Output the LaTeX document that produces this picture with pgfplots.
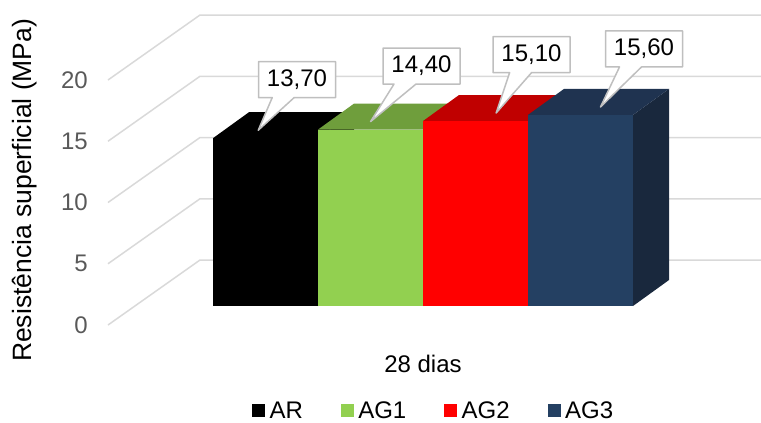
\documentclass[border=0pt]{standalone}
\usepackage{fontspec}
\setmainfont{Liberation Sans}
\usepackage{pgfplots}
\pgfplotsset{compat=1.18}
\usetikzlibrary{shapes.callouts}

\definecolor{gridgray}{HTML}{D9D9D9}
\definecolor{ticktext}{HTML}{595959}
\definecolor{calloutgray}{HTML}{BFBFBF}
\definecolor{agonefront}{HTML}{92D050}
\definecolor{agonetop}{HTML}{6F9E3C}
\definecolor{agoneside}{HTML}{5E8733}
\definecolor{agtwofront}{HTML}{FF0000}
\definecolor{agtwotop}{HTML}{C00000}
\definecolor{agtwoside}{HTML}{A00000}
\definecolor{agthreefront}{HTML}{244062}
\definecolor{agthreetop}{HTML}{1F3350}
\definecolor{agthreeside}{HTML}{19283D}

\newcommand\chartfont{\fontsize{24}{28.8}\selectfont}
\newcommand\titlefont{\fontsize{26.5}{31.8}\selectfont}

\pgfplotsset{
  % oblique projection of the 3-D frame: x runs along the front, y in MPa;
  % the back of the frame sits 92 units right and 5.306 MPa higher
  wall/.style={forget plot, draw=gridgray, line width=1.5pt,
    x filter/.expression={\coordindex>0 ? x+92 : x},
    y filter/.expression={\coordindex>0 ? y+5.306 : y}},
  % front face of a column (the columns stand a little behind the front edge)
  front/.style={forget plot, draw=none, y filter/.expression={y+1.551}},
  % top and side faces: the last two corners are pushed to the back of the column
  deep/.style={forget plot, draw=none,
    x filter/.expression={\coordindex>1 ? x+36 : x},
    y filter/.expression={\coordindex>1 ? y+3.673 : y+1.551}},
  % value callouts pointing at the top face
  tip/.style={forget plot, draw=none, mark=none,
    x filter/.expression={x+11},
    y filter/.expression={y+2.2},
    point meta=explicit,
    nodes near coords={\pgfmathprintnumber[fixed,fixed zerofill,precision=2,use comma,assume math mode=true]{\pgfplotspointmeta}},
    nodes near coords style={rectangle callout, fill=white, draw=calloutgray, line width=1.5pt,
      line join=round, minimum width=77pt, minimum height=36pt, inner sep=0pt,
      font=\chartfont, text=black, anchor=center, callout pointer width=22pt}},
  callout at/.style 2 args={nodes near coords style={xshift=#1, yshift=#2,
      callout relative pointer={(-#1+14pt,-#2+18pt)}}},
  square/.style={legend image code/.code={\fill[#1] (0pt,-6pt) rectangle (12pt,6pt);}},
}

\begin{document}
\begin{tikzpicture}
\begin{axis}[
  x=1pt, y=12.25pt,
  xmin=0, xmax=761, ymin=-7.918, ymax=26.531,
  clip=false,
  axis line style={draw=none},
  major tick length=0pt,
  tick style={draw=none},
  ytick={0,5,10,15,20},
  yticklabel style={font=\chartfont, text=ticktext, anchor=east, inner sep=0pt, xshift=88pt},
  xtick={423}, xticklabels={28 dias},
  xticklabel style={font=\chartfont, text=black, anchor=base, inner sep=0pt, yshift=50pt},
  ylabel={Resistência superficial (MPa)},
  ylabel style={font=\titlefont, text=black, at={(axis description cs:0.032,0.549)}, anchor=center},
  /pgf/number format/assume math mode=true,
  legend columns=4,
  legend style={at={(axis description cs:0.3311,0.027)}, anchor=west, draw=none, fill=none,
    inner sep=0pt, font=\chartfont, nodes={inner sep=0pt},
    /tikz/every even column/.append style={column sep=38pt},
    /tikz/every odd column/.append style={column sep=5pt}},
]
% grid lines on the side wall and the back wall
\addplot[wall] coordinates {(108,0) (108,0) (669,0)};
\addplot[wall] coordinates {(108,5) (108,5) (669,5)};
\addplot[wall] coordinates {(108,10) (108,10) (669,10)};
\addplot[wall] coordinates {(108,15) (108,15) (669,15)};
\addplot[wall] coordinates {(108,20) (108,20) (669,20)};

% AR
\addplot[deep, fill=black] coordinates {(318,0) (318,13.7) (318,13.7) (318,0)};
\addplot[deep, fill=black] coordinates {(213,13.7) (318,13.7) (318,13.7) (213,13.7)};
\addplot[front, fill=black] coordinates {(213,0) (318,0) (318,13.7) (213,13.7)};
% AG1
\addplot[deep, fill=agoneside] coordinates {(423,0) (423,14.4) (423,14.4) (423,0)};
\addplot[deep, fill=agonetop] coordinates {(318,14.4) (423,14.4) (423,14.4) (318,14.4)};
\addplot[front, fill=agonefront] coordinates {(318,0) (423,0) (423,14.4) (318,14.4)};
% AG2
\addplot[deep, fill=agtwoside] coordinates {(528,0) (528,15.1) (528,15.1) (528,0)};
\addplot[deep, fill=agtwotop] coordinates {(423,15.1) (528,15.1) (528,15.1) (423,15.1)};
\addplot[front, fill=agtwofront] coordinates {(423,0) (528,0) (528,15.1) (423,15.1)};
% AG3
\addplot[deep, fill=agthreeside] coordinates {(633,0) (633,15.6) (633,15.6) (633,0)};
\addplot[deep, fill=agthreetop] coordinates {(528,15.6) (633,15.6) (633,15.6) (528,15.6)};
\addplot[front, fill=agthreefront] coordinates {(528,0) (633,0) (633,15.6) (528,15.6)};

% value callouts
\addplot[tip, callout at={39pt}{50.7pt}] coordinates {(247,13.7) [13.7]};
\addplot[tip, callout at={48.5pt}{55.6pt}] coordinates {(362,14.4) [14.4]};
\addplot[tip, callout at={38.5pt}{58.5pt}] coordinates {(482,15.1) [15.1]};
\addplot[tip, callout at={44pt}{58pt}] coordinates {(589,15.6) [15.6]};

\addlegendimage{square=black}\addlegendentry{AR}
\addlegendimage{square=agonefront}\addlegendentry{AG1}
\addlegendimage{square=agtwofront}\addlegendentry{AG2}
\addlegendimage{square=agthreefront}\addlegendentry{AG3}
\end{axis}
\pgfresetboundingbox
\useasboundingbox (current axis.south west) rectangle (current axis.north east);
\end{tikzpicture}
\end{document}
